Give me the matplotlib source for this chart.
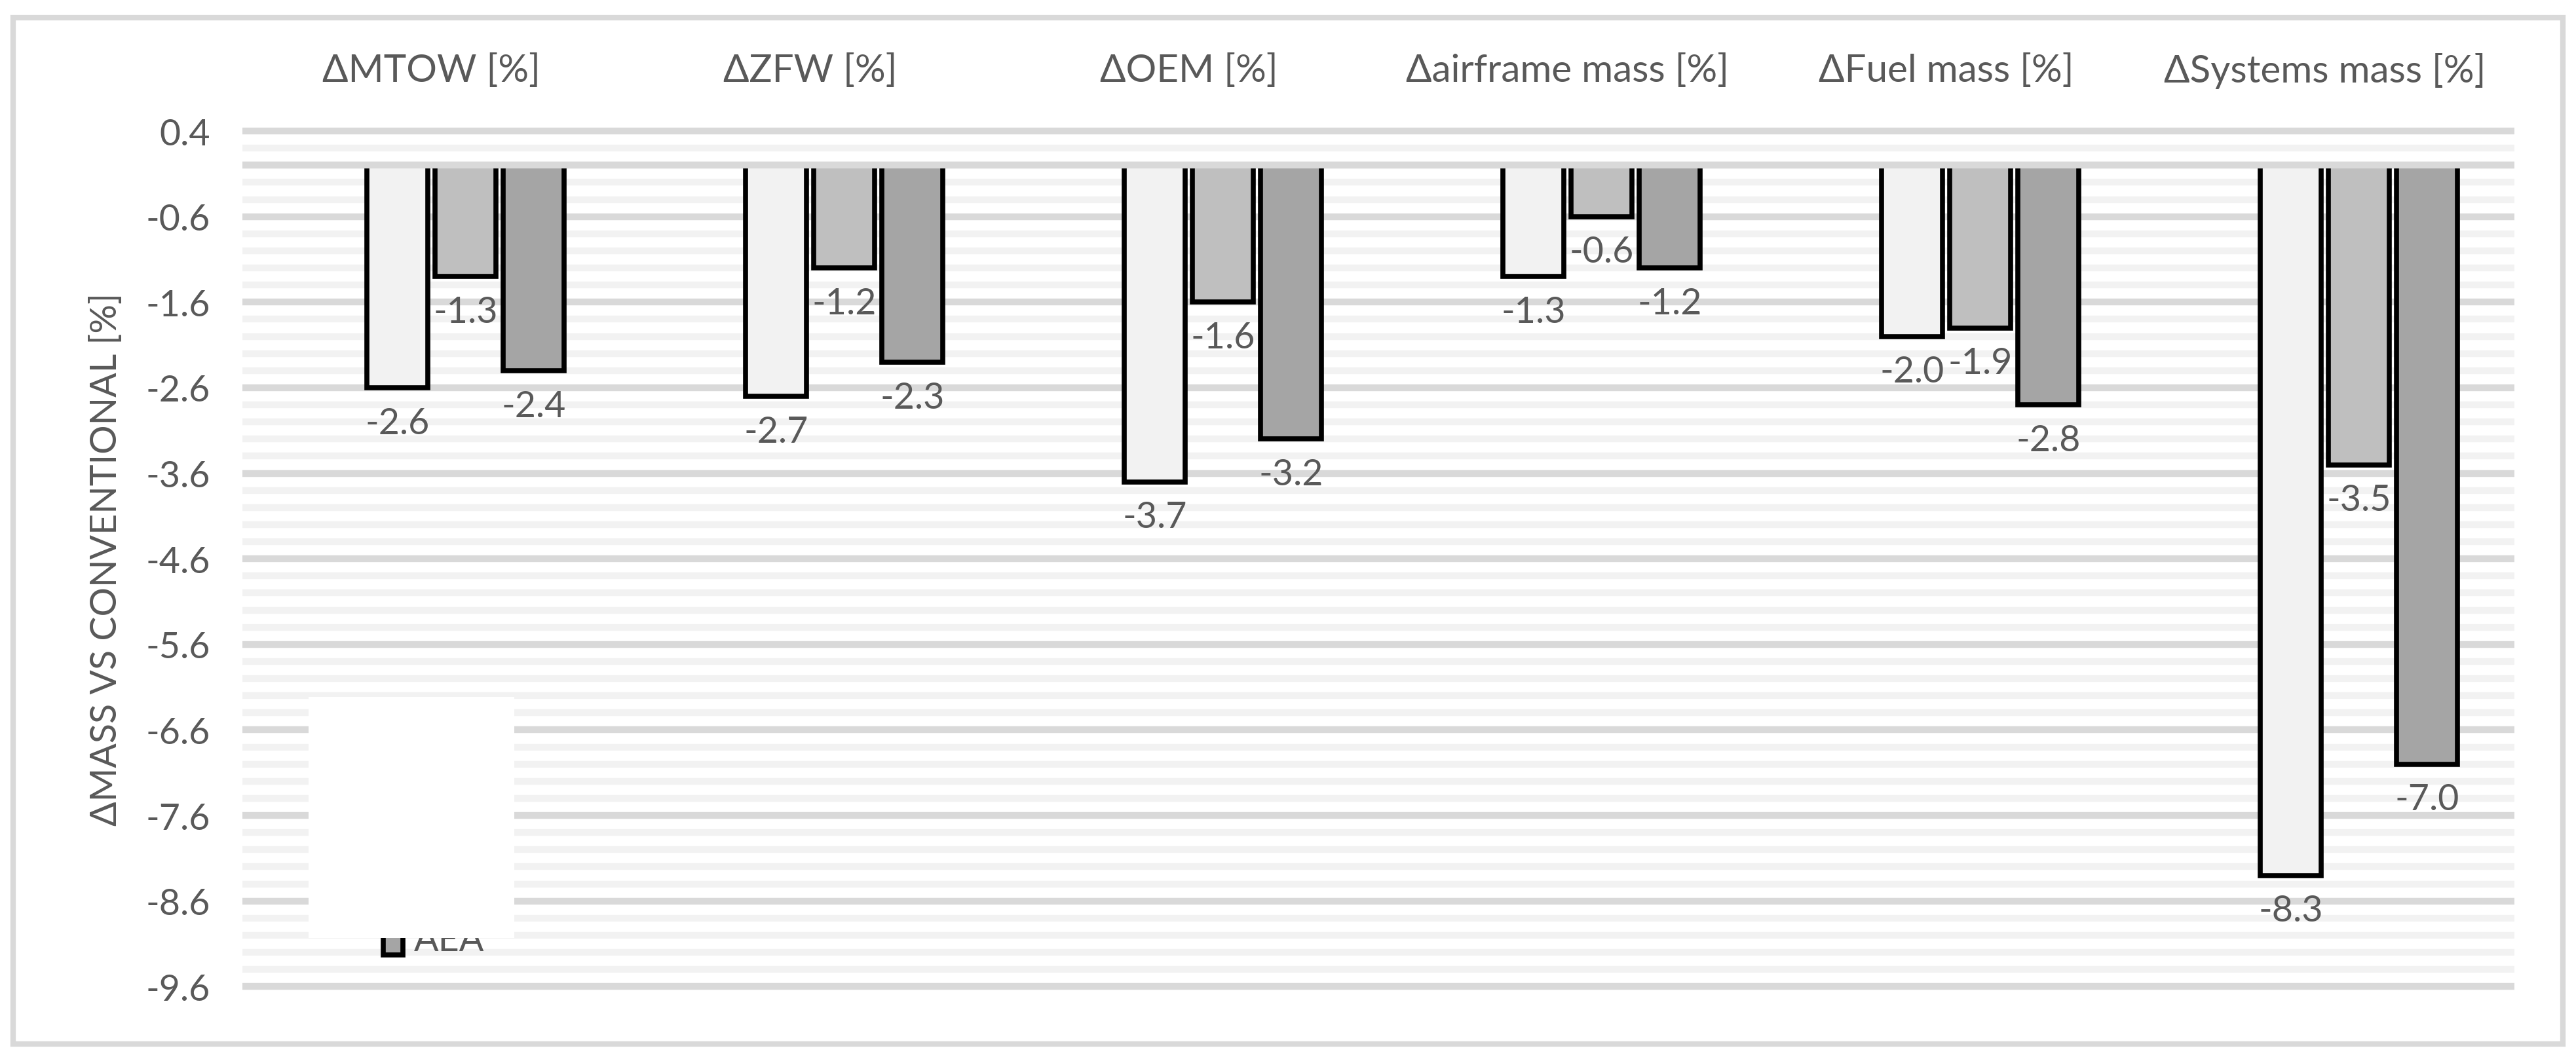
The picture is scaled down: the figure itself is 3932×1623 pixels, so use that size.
import matplotlib
matplotlib.use("Agg")
import matplotlib.pyplot as plt
import matplotlib.transforms as mtransforms
from matplotlib.patches import Rectangle
import numpy as np

categories = ["ΔMTOW [%]", "ΔZFW [%]", "ΔOEM [%]", "Δairframe mass [%]", "ΔFuel mass [%]", "ΔSystems mass [%]"]
series_names = ["MEA1", "MEA2", "AEA"]
mea1 = [-2.6, -2.7, -3.7, -1.3, -2.0, -8.3]
mea2 = [-1.3, -1.2, -1.6, -0.6, -1.9, -3.5]
aea = [-2.4, -2.3, -3.2, -1.2, -2.8, -7.0]
yticks = [0.4, -0.6, -1.6, -2.6, -3.6, -4.6, -5.6, -6.6, -7.6, -8.6, -9.6]

colors = ["#F2F2F2", "#BFBFBF", "#A5A5A5"]
txt = "#595959"
plt.rcParams['font.family'] = ['Lato', 'DejaVu Sans']

fig = plt.figure(figsize=(39.32, 16.24), dpi=100)
ax = fig.add_axes([0.094, 0.067, 0.882, 0.814])

for v in np.arange(0.4, -9.61, -0.2):
    v = round(v, 1)
    major = any(abs(v - t) < 1e-6 for t in yticks) or abs(v) < 1e-6
    ax.axhline(v, color="#D9D9D9" if major else "#F2F2F2", lw=7.5, zorder=0)

x = np.arange(len(categories))
step = 0.18
width = 0.16
for i, (vals, c, name) in enumerate(zip([mea1, mea2, aea], colors, series_names)):
    xs = x + (i - 0.5) * step
    ax.bar(xs, vals, width=width, color=c, edgecolor="black", linewidth=5.5, zorder=2, label=name)
    for xi, v in zip(xs, vals):
        ax.text(xi, v - 0.22, f"{v:.1f}", ha="center", va="top", fontsize=40, color=txt, zorder=4)
ax.axhline(0, color="#D9D9D9", lw=7.5, zorder=3)

ax.set_xlim(-0.5, len(categories) - 0.5)
ax.set_ylim(-9.66, 0.46)
ax.set_yticks(yticks)
ax.set_yticklabels([f"{t:.1f}" for t in yticks], fontsize=40, color=txt)
ax.set_xticks([])
ax.tick_params(axis="y", length=0, pad=35)
for s in ax.spines.values():
    s.set_visible(False)
ax.set_ylabel("ΔMASS VS CONVENTIONAL [%]", fontsize=40, color=txt, labelpad=25)

trans = mtransforms.blended_transform_factory(ax.transData, fig.transFigure)
for xi, c in zip(x, categories):
    ax.text(xi, 0.933, c, transform=trans, ha="center", va="center", fontsize=42, color=txt)

leg = ax.legend(loc="upper left", bbox_to_anchor=(471/3932, 1 - 1433/1624, 314/3932, 368/1624),
                bbox_transform=fig.transFigure, frameon=True, fancybox=False,
                edgecolor="white", facecolor="white", framealpha=1, fontsize=40,
                handlelength=0.55, handleheight=1.05, labelspacing=1.5, borderpad=1.2, borderaxespad=0,
                handletextpad=0.3)
for t in leg.get_texts():
    t.set_color(txt)
for h in leg.legend_handles:
    h.set_linewidth(5.5)
leg.get_frame().set_linewidth(0)
# make frame fill the target box
leg.set_bbox_to_anchor((471/3932 + 0.012, 1 - 1433/1624, 314/3932, 368/1624), transform=fig.transFigure)
fig.patches.append(Rectangle((471/3932, 1 - 1433/1624), 314/3932, 368/1624, transform=fig.transFigure,
                             facecolor="white", edgecolor="none", zorder=0.5))
leg.get_frame().set_alpha(0)

fig.patches.append(Rectangle((20/3932, 1 - 1595/1624), 3892/3932, 1567/1624, transform=fig.transFigure,
                             fill=False, edgecolor="#D9D9D9", lw=6))
fig.savefig("out.png", dpi=100, facecolor="white")
